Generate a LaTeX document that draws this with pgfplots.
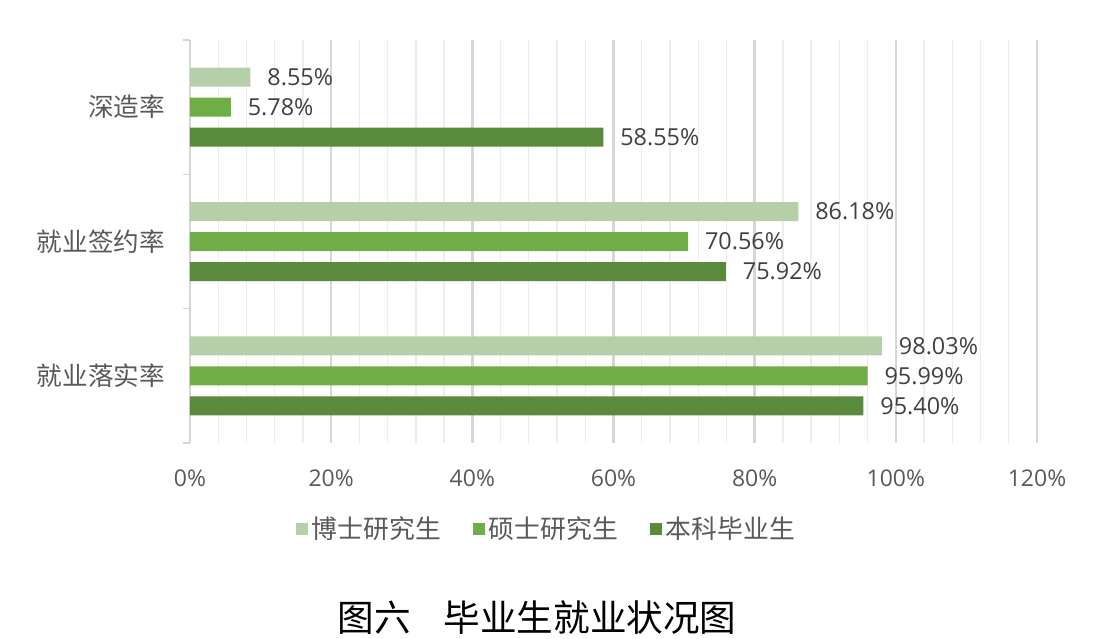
\documentclass[border=0pt]{standalone}
\usepackage{pgfplots}
\pgfplotsset{compat=1.18}
\usepackage{fontspec}
\setmainfont{Open Sans}
\newfontfamily\cjk{Noto Sans CJK SC}
\definecolor{boshi}{HTML}{B5CFA8}
\definecolor{shuoshi}{HTML}{70AD47}
\definecolor{benke}{HTML}{5A8B3D}
\definecolor{majorgrid}{HTML}{D6D6D6}
\definecolor{minorgrid}{HTML}{EDEDED}
\definecolor{labelgray}{HTML}{595959}
\definecolor{valgray}{HTML}{404040}

\begin{document}
\begin{tikzpicture}
\useasboundingbox (-95pt,-97.5pt) rectangle (457pt,221.5pt);
\begin{axis}[
    at={(0pt,0pt)}, anchor=south west,
    scale only axis, width=423.5pt, height=201.5pt,
    xbar, bar width=9.5pt,
    xmin=0, xmax=120, ymin=-0.5, ymax=2.5,
    axis lines*=left,
    x axis line style={draw=none},
    y axis line style={draw=majorgrid, line width=0.8pt},
    tick align=outside,
    major tick length=0pt, minor tick length=3.5pt,
    xtick={0,20,...,120},
    xticklabels={0\%,20\%,40\%,60\%,80\%,100\%,120\%},
    minor x tick num=4,
    xmajorgrids, xminorgrids,
    major grid style={draw=majorgrid, line width=1.3pt},
    minor grid style={draw=minorgrid, line width=0.7pt},
    x tick style={draw=none},
    y tick style={draw=majorgrid, line width=0.8pt},
    ytick={0,1,2},
    yticklabels={就业落实率,就业签约率,深造率},
    minor ytick={-0.5,0.5,1.5,2.5},
    xticklabel style={font=\fontsize{11.5}{13}\selectfont, text=labelgray, yshift=-10pt},
    yticklabel style={font=\cjk\fontsize{12.8}{14}\selectfont, text=labelgray, xshift=-9pt},
    /pgf/number format/assume math mode=true,
    point meta=x,
    nodes near coords={\pgfmathprintnumber[fixed,fixed zerofill,precision=2]{\pgfplotspointmeta}\%},
    nodes near coords style={font=\fontsize{11.7}{13}\selectfont, text=valgray, xshift=5pt},
    legend style={at={(0.422,-0.213)}, anchor=center, legend columns=3,
        draw=none, fill=none, font=\cjk\fontsize{12.9}{14}\selectfont, text=labelgray,
        /tikz/every even column/.append style={column sep=14pt}},
    legend image code/.code={\fill[#1] (0pt,-3pt) rectangle (6pt,3pt);},
]
% 博士研究生
\addplot[fill=boshi, draw=none, bar shift=15pt] coordinates {(98.03,0) (86.18,1) (8.55,2)};
% 硕士研究生
\addplot[fill=shuoshi, draw=none, bar shift=0pt] coordinates {(95.99,0) (70.56,1) (5.78,2)};
% 本科毕业生
\addplot[fill=benke, draw=none, bar shift=-15pt] coordinates {(95.40,0) (75.92,1) (58.55,2)};
\legend{博士研究生,硕士研究生,本科毕业生}
\end{axis}
\node[font=\cjk\fontsize{18.3}{21}\selectfont] at (173.5pt,-87.5pt) {图六\hspace{0.9em}毕业生就业状况图};
\end{tikzpicture}
\end{document}
